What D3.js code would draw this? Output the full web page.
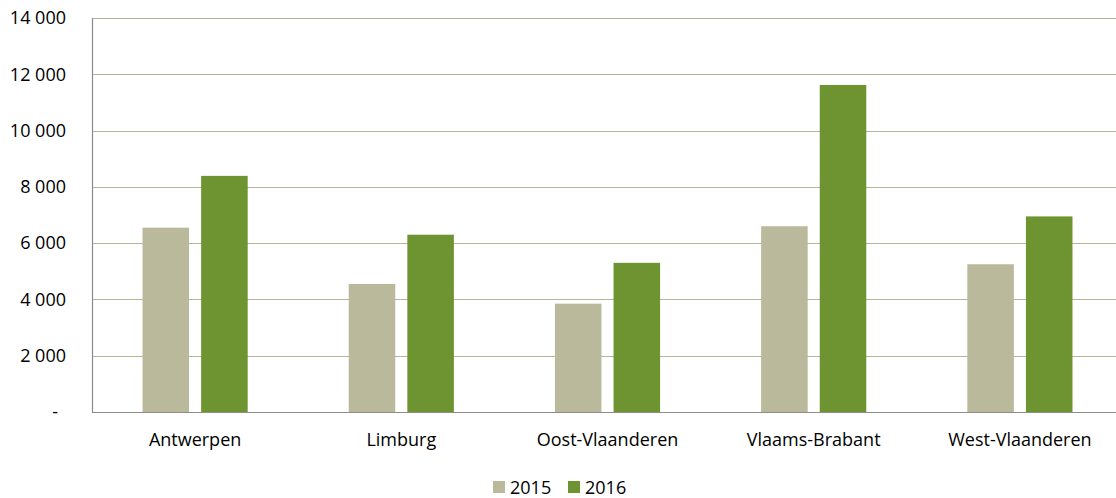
<!DOCTYPE html>
<html>
<head>
<meta charset="utf-8">
<script src="https://cdn.jsdelivr.net/npm/d3@7"></script>
<style>
  body { margin: 0; background: #fff; overflow: hidden; }
  text { font-family: "Open Sans", Lato, sans-serif; fill: #000; }
</style>
</head>
<body>
<svg id="chart" width="1116" height="498"></svg>
<script>
const provinces = ['Antwerpen', 'Limburg', 'Oost-Vlaanderen', 'Vlaams-Brabant', 'West-Vlaanderen']
const years = ['2015', '2016']
const values2015 = [6550, 4550, 3850, 6600, 5250]
const values2016 = [8390, 6300, 5300, 11620, 6950]
const yTicks = [0, 2000, 4000, 6000, 8000, 10000, 12000, 14000]
const colors = ['#bab99b', '#6e9431']

const svg = d3.select('#chart')
// the plot runs a little past the right edge of the picture
const plotLeft = 92, plotRight = 1123, plotTop = 18, plotBottom = 412
const fontSize = '18px'

const x0 = d3.scaleBand().domain(provinces).range([plotLeft, plotRight])
  .paddingInner(0.49).paddingOuter(0.245)
const x1 = d3.scaleBand().domain(years).range([0, x0.bandwidth()]).paddingInner(0.206)
const y = d3.scaleLinear().domain([0, 14000]).range([plotBottom, plotTop])

// gridlines
svg.append('g')
  .selectAll('line')
  .data(yTicks.filter(d => d > 0))
  .join('line')
  .attr('x1', plotLeft).attr('x2', plotRight)
  .attr('y1', d => Math.round(y(d)) + 0.5).attr('y2', d => Math.round(y(d)) + 0.5)
  .attr('stroke', '#b5b596').attr('stroke-width', 1.2)

// y labels
const fmt = d => d === 0 ? '-' : d3.format(',')(d).replace(',', ' ')
svg.append('g')
  .selectAll('text')
  .data(yTicks)
  .join('text')
  .attr('x', d => d === 0 ? 58 : 66)
  .attr('y', d => y(d))
  .attr('dy', '0.35em')
  .attr('text-anchor', 'end')
  .style('font-size', fontSize)
  .text(fmt)

// bars
const rows = provinces.map((p, i) => ({ province: p, vals: [values2015[i], values2016[i]] }))
svg.append('g')
  .selectAll('g')
  .data(rows)
  .join('g')
  .attr('transform', d => `translate(${x0(d.province)},0)`)
  .selectAll('rect')
  .data(d => d.vals.map((v, j) => ({ year: years[j], value: v, j })))
  .join('rect')
  .attr('x', d => x1(d.year))
  .attr('width', x1.bandwidth())
  .attr('y', d => y(d.value))
  .attr('height', d => plotBottom - y(d.value))
  .attr('fill', d => colors[d.j])

// axis lines
svg.append('line')
  .attr('x1', plotLeft + 0.5).attr('x2', plotLeft + 0.5)
  .attr('y1', plotTop).attr('y2', plotBottom)
  .attr('stroke', '#8c8c8c').attr('stroke-width', 1.2)
svg.append('line')
  .attr('x1', plotLeft).attr('x2', plotRight)
  .attr('y1', plotBottom + 0.5).attr('y2', plotBottom + 0.5)
  .attr('stroke', '#8c8c8c').attr('stroke-width', 1.2)

// category labels
svg.append('g')
  .selectAll('text')
  .data(provinces)
  .join('text')
  .attr('x', d => x0(d) + x0.bandwidth() / 2)
  .attr('y', 446)
  .attr('text-anchor', 'middle')
  .style('font-size', fontSize)
  .text(d => d)

// legend
const legend = svg.append('g')
const legendX = [493, 568]
years.forEach((yr, i) => {
  legend.append('rect')
    .attr('x', legendX[i]).attr('y', 481)
    .attr('width', 12).attr('height', 12)
    .attr('fill', colors[i])
  legend.append('text')
    .attr('x', legendX[i] + 17).attr('y', 494)
    .style('font-size', fontSize)
    .text(yr)
})
</script>
</body>
</html>
